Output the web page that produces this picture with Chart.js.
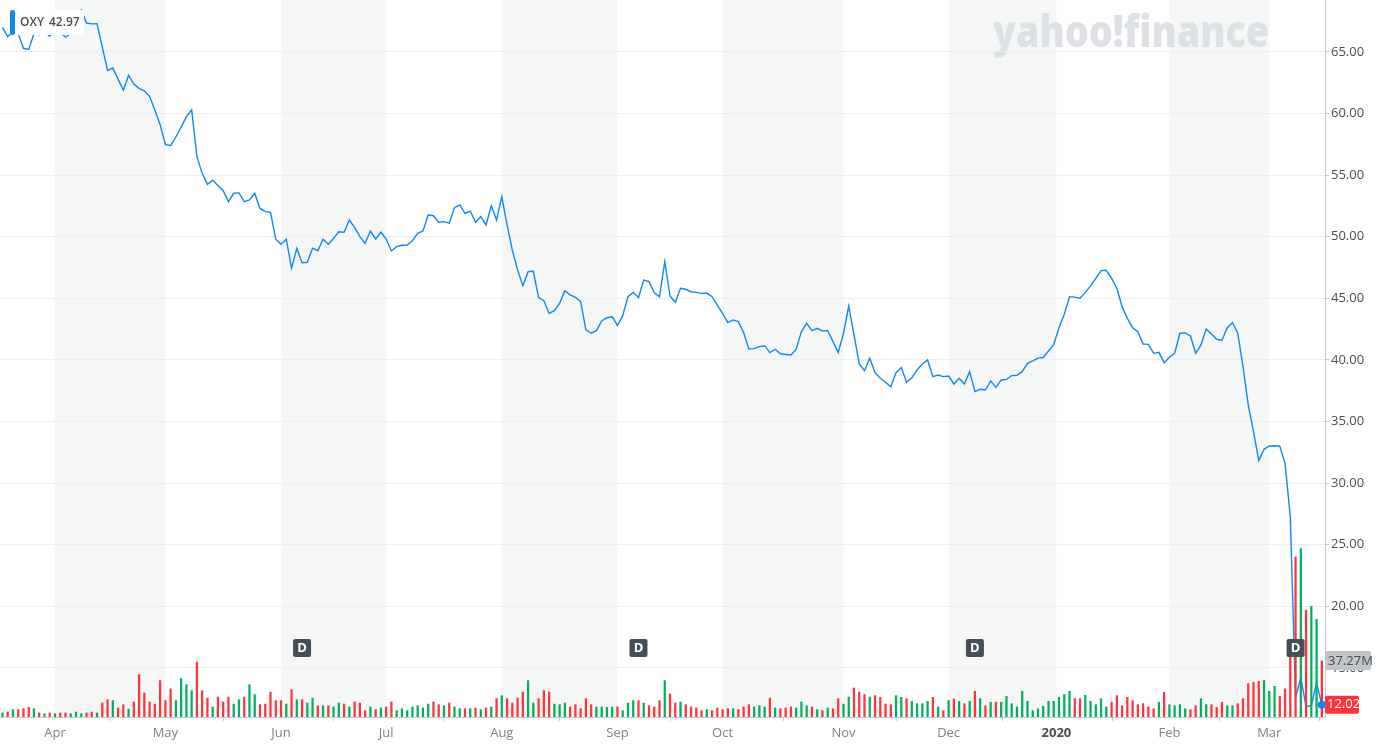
<!DOCTYPE html>
<html>
<head>
<meta charset="utf-8">
<script src="https://cdn.jsdelivr.net/npm/chart.js@4.4.1/dist/chart.umd.min.js"></script>
<style>
html,body{margin:0;padding:0;background:#fff;}
canvas{display:block;}
</style>
</head>
<body>
<canvas id="c" width="1380" height="747"></canvas>
<script>
// ---- Data (OXY daily close, Mar 18 2019 – Mar 16 2020, one value per trading day) ----
const closePrices = [
  67.0, 66.24, 66.65, 66.5, 65.3, 65.2, 66.5, 66.4, 66.6, 66.3,
  66.8, 66.6, 66.2, 66.5, 67.4, 68.4, 67.35, 67.28, 67.3, 65.4,
  63.5, 63.7, 62.8, 61.9, 63.1, 62.4, 62.05, 61.85, 61.4, 60.3,
  59.1, 57.5, 57.4, 58.1, 58.9, 59.75, 60.3, 56.5, 55.15, 54.26,
  54.6, 54.17, 53.74, 52.85, 53.53, 53.56, 52.85, 52.99, 53.53, 52.3,
  52.04, 51.99, 49.8, 49.4, 49.8, 47.44, 49.07, 47.9, 47.93, 49.07,
  48.87, 49.8, 49.4, 49.88, 50.41, 50.37, 51.36, 50.77, 50.01, 49.47,
  50.47, 49.82, 50.37, 49.82, 48.85, 49.2, 49.31, 49.33, 49.68, 50.28,
  50.47, 51.77, 51.71, 51.18, 51.23, 51.1, 52.36, 52.58, 51.91, 52.09,
  51.18, 51.63, 50.96, 52.52, 51.36, 53.26, 50.96, 48.93, 47.31, 46.03,
  47.17, 47.2, 45.06, 44.81, 43.79, 44.0, 44.6, 45.63, 45.28, 45.09,
  44.73, 42.44, 42.17, 42.38, 43.17, 43.43, 43.52, 42.79, 43.6, 45.14,
  45.49, 45.06, 46.49, 46.36, 45.46, 45.14, 47.98, 45.19, 44.68, 45.82,
  45.74, 45.54, 45.49, 45.41, 45.43, 45.14, 44.46, 43.79, 43.03, 43.25,
  43.11, 42.22, 40.89, 40.92, 41.08, 41.16, 40.6, 40.87, 40.5, 40.45,
  40.4, 40.87, 42.3, 42.98, 42.38, 42.57, 42.35, 42.38, 41.49, 40.6,
  42.17, 44.38, 42.03, 39.68, 39.13, 40.14, 38.97, 38.51, 38.19, 37.83,
  38.97, 39.38, 38.19, 38.56, 39.19, 39.68, 40.0, 38.65, 38.78, 38.65,
  38.7, 38.05, 38.51, 38.05, 39.05, 37.43, 37.62, 37.56, 38.3, 37.78,
  38.38, 38.42, 38.73, 38.76, 39.05, 39.73, 39.92, 40.15, 40.2, 40.73,
  41.27, 42.62, 43.71, 45.14, 45.1, 45.01, 45.49, 46.01, 46.63, 47.25,
  47.28, 46.63, 45.82, 44.33, 43.38, 42.62, 42.3, 41.3, 41.27, 40.54,
  40.62, 39.78, 40.22, 40.54, 42.17, 42.2, 41.95, 40.54, 41.22, 42.52,
  42.11, 41.68, 41.6, 42.62, 43.03, 42.17, 39.46, 36.35, 34.18, 31.83,
  32.75, 33.02, 33.04, 33.0, 31.61, 27.28, 12.6, 14.2, 11.85, 11.95,
  13.8, 12.02
];
// volume in millions of shares
const volumeM = [
  2.7, 3.3, 4.9, 4.9, 5.5, 6.4, 5.5, 2.7, 2.2, 2.7,
  2.2, 2.7, 2.7, 2.2, 3.3, 2.2, 2.7, 3.3, 2.7, 9.3,
  11.5, 10.9, 6.0, 8.2, 5.3, 10.0, 28.2, 16.0, 10.0, 8.6,
  24.2, 10.9, 18.8, 10.9, 25.5, 21.5, 17.5, 36.6, 17.5, 12.6,
  6.7, 13.3, 10.0, 13.3, 8.6, 11.5, 13.3, 21.5, 14.9, 8.2,
  8.6, 16.6, 10.9, 10.9, 8.6, 18.2, 11.5, 11.5, 9.3, 12.6,
  7.5, 7.5, 7.5, 6.7, 9.3, 8.6, 6.7, 10.0, 9.3, 4.2,
  6.7, 4.9, 6.0, 6.7, 10.0, 4.2, 5.5, 4.2, 6.7, 7.5,
  6.0, 8.6, 10.0, 8.2, 7.5, 9.3, 6.7, 5.5, 5.5, 5.5,
  6.0, 4.9, 6.0, 6.7, 12.2, 14.2, 12.2, 9.3, 12.6, 16.6,
  24.2, 9.3, 12.2, 17.5, 16.6, 8.6, 8.2, 9.3, 6.7, 8.2,
  5.5, 12.2, 8.2, 6.7, 6.7, 6.4, 6.7, 6.7, 4.2, 9.3,
  10.9, 10.9, 9.3, 7.5, 6.7, 10.9, 24.2, 15.3, 9.3, 10.0,
  8.2, 6.7, 6.0, 4.2, 4.9, 4.2, 6.0, 4.9, 5.5, 5.5,
  4.9, 6.7, 8.2, 6.7, 7.5, 6.7, 12.6, 6.0, 5.5, 6.0,
  6.7, 6.0, 10.0, 7.5, 6.7, 4.9, 4.2, 6.0, 5.5, 12.2,
  8.6, 13.3, 19.3, 16.6, 14.9, 13.3, 14.2, 13.1, 8.6, 8.2,
  14.2, 13.1, 12.2, 10.4, 8.9, 8.9, 10.4, 13.1, 6.7, 4.2,
  10.9, 12.0, 10.4, 8.9, 10.4, 17.1, 12.2, 7.5, 9.8, 9.8,
  9.8, 13.7, 8.9, 6.7, 17.1, 10.4, 4.2, 5.5, 7.1, 10.4,
  10.4, 13.1, 14.9, 17.1, 12.2, 12.2, 14.4, 10.4, 8.2, 12.2,
  6.7, 9.8, 14.2, 7.5, 13.1, 10.9, 8.2, 8.9, 6.7, 5.5,
  9.8, 16.4, 8.2, 7.5, 8.2, 5.5, 4.9, 7.5, 12.2, 8.2,
  8.2, 6.4, 9.8, 7.5, 7.5, 8.9, 12.2, 22.2, 23.1, 23.7,
  24.4, 17.1, 20.4, 13.7, 18.8, 39.7, 106.5, 112.0, 71.0, 73.6,
  65.0, 37.27
];
// trading-day index of the first session of each month and its label
const monthTickIdx = [10, 31, 53, 73, 95, 117, 137, 160, 180, 200.5, 222, 241];
const monthLabels  = ['Apr', 'May', 'Jun', 'Jul', 'Aug', 'Sep', 'Oct', 'Nov', 'Dec', '2020', 'Feb', 'Mar'];
const priceTicks   = [15, 20, 25, 30, 35, 40, 45, 50, 55, 60, 65];
const dividendIdx  = [57, 121, 185, 246];
const symbol = 'OXY';
const headerPrice = '42.97';
const lastVolumeLabel = '37.27M';
const lastPriceLabel = '12.02';

// ---- build library structures ----
const linePoints = closePrices.map((v, i) => ({ x: i, y: v }));
const volPoints  = volumeM.map((v, i) => ({ x: i, y: v }));
const RED = '#ff333a', GREEN = '#00b061';
const volColors = closePrices.map((v, i) => (i === 0 || v >= closePrices[i - 1]) ? GREEN : RED);

const FONT = '"Open Sans", "Liberation Sans", sans-serif';

function roundRect(ctx, x, y, w, h, r) {
  ctx.beginPath();
  ctx.moveTo(x + r, y);
  ctx.lineTo(x + w - r, y);
  ctx.quadraticCurveTo(x + w, y, x + w, y + r);
  ctx.lineTo(x + w, y + h - r);
  ctx.quadraticCurveTo(x + w, y + h, x + w - r, y + h);
  ctx.lineTo(x + r, y + h);
  ctx.quadraticCurveTo(x, y + h, x, y + h - r);
  ctx.lineTo(x, y + r);
  ctx.quadraticCurveTo(x, y, x + r, y);
  ctx.closePath();
}

const backgroundPlugin = {
  id: 'bg',
  beforeDraw(chart) {
    const { ctx, chartArea: a, scales } = chart;
    const xs = scales.x;
    ctx.save();
    ctx.fillStyle = '#ffffff';
    ctx.fillRect(0, 0, chart.width, chart.height);
    // alternating month shading
    ctx.fillStyle = '#f5f7f7';
    for (let k = 0; k < monthTickIdx.length; k += 2) {
      const x0 = xs.getPixelForValue(monthTickIdx[k]);
      const x1 = k + 1 < monthTickIdx.length ? xs.getPixelForValue(monthTickIdx[k + 1]) : a.right;
      ctx.fillRect(x0, a.top, x1 - x0, a.bottom - a.top);
    }
    // watermark
    ctx.font = '800 44px ' + FONT;
    ctx.fillStyle = '#dde1e5';
    ctx.textBaseline = 'alphabetic';
    const txt = 'yahoo!finance';
    const w = ctx.measureText(txt).width;
    ctx.translate(993, 47);
    ctx.scale(276 / w, 1);
    ctx.fillText(txt, 0, 0);
    ctx.restore();
  }
};

const overlayPlugin = {
  id: 'overlay',
  afterDatasetsDraw(chart) {
    const { ctx, scales } = chart;
    const xs = scales.x;
    ctx.save();
    // last-point dot
    const meta = chart.getDatasetMeta(0);
    const lastPt = meta.data[meta.data.length - 1];
    ctx.fillStyle = '#0f87f5';
    ctx.beginPath();
    ctx.arc(lastPt.x, lastPt.y, 4, 0, Math.PI * 2);
    ctx.fill();
    // dividend badges
    ctx.font = 'bold 13px ' + FONT;
    ctx.textAlign = 'center';
    ctx.textBaseline = 'middle';
    dividendIdx.forEach(i => {
      const cx = xs.getPixelForValue(i);
      ctx.fillStyle = '#464e56';
      roundRect(ctx, cx - 9, 639, 18, 18, 2);
      ctx.fill();
      ctx.fillStyle = '#ffffff';
      ctx.fillText('D', cx, 648.5);
    });
    ctx.restore();
  },
  afterDraw(chart) {
    const { ctx, chartArea: a, scales } = chart;
    ctx.save();
    // header label
    ctx.fillStyle = '#ffffff';
    roundRect(ctx, 10, 10, 74, 25, 3);
    ctx.fill();
    ctx.fillStyle = '#0f87f5';
    roundRect(ctx, 10, 10, 5, 25, 2);
    ctx.fill();
    ctx.font = '600 12px ' + FONT;
    ctx.fillStyle = '#464e56';
    ctx.textBaseline = 'middle';
    ctx.textAlign = 'left';
    ctx.fillText(symbol, 20, 22.5);
    ctx.fillText(headerPrice, 49, 22.5);

    // volume tag on right axis
    const vy = scales.yv.getPixelForValue(volumeM[volumeM.length - 1]);
    ctx.fillStyle = '#c1c5ca';
    roundRect(ctx, a.right, vy - 10, 46, 19, 2);
    ctx.fill();
    ctx.fillStyle = '#464e56';
    ctx.font = '13px ' + FONT;
    ctx.fillText(lastVolumeLabel, a.right + 3, vy);

    // price tag on right axis
    const py = scales.y.getPixelForValue(closePrices[closePrices.length - 1]);
    ctx.fillStyle = RED;
    roundRect(ctx, a.right, py - 9, 34, 18, 2);
    ctx.fill();
    ctx.fillStyle = '#ffffff';
    ctx.fillText(lastPriceLabel, a.right + 2, py);
    ctx.restore();
  }
};

new Chart(document.getElementById('c'), {
  data: {
    datasets: [
      {
        type: 'line',
        data: linePoints,
        yAxisID: 'y',
        borderColor: '#0f87f5',
        borderWidth: 1.4,
        pointRadius: 0,
        pointHoverRadius: 0,
        tension: 0,
        order: 2
      },
      {
        type: 'bar',
        data: volPoints,
        yAxisID: 'yv',
        backgroundColor: volColors,
        barThickness: 1.6,
        order: 1
      }
    ]
  },
  options: {
    responsive: false,
    animation: false,
    devicePixelRatio: 1,
    layout: { padding: 0, autoPadding: false },
    plugins: { legend: { display: false }, tooltip: { enabled: false } },
    scales: {
      x: {
        type: 'linear',
        position: 'bottom',
        min: -0.46,
        max: 251.6,
        offset: false,
        afterBuildTicks: s => { s.ticks = monthTickIdx.map(v => ({ value: v })); },
        afterFit: s => { s.height = 30; s.paddingLeft = 0; s.paddingRight = 0; },
        ticks: {
          autoSkip: false,
          maxRotation: 0,
          padding: 4,
          callback: (v, i) => monthLabels[i],
          color: c => (c.tick && c.tick.label === '2020') ? '#464e56' : '#7b838b',
          font: c => ({ family: FONT, size: 13, weight: (c.tick && c.tick.label === '2020') ? 'bold' : 'normal' })
        },
        grid: { drawOnChartArea: false, drawTicks: true, tickLength: 4, tickColor: '#c5cad0' },
        border: { color: '#c5cad0', width: 1 }
      },
      y: {
        position: 'right',
        min: 11.02,
        max: 69.22,
        afterBuildTicks: s => { s.ticks = priceTicks.map(v => ({ value: v })); },
        afterFit: s => { s.width = 55; s.paddingTop = 0; s.paddingBottom = 0; },
        ticks: {
          padding: 2,
          callback: v => Number(v).toFixed(2),
          color: '#464e56',
          font: { family: FONT, size: 13 }
        },
        grid: { color: '#eceef0', tickLength: 4, tickColor: '#c5cad0' },
        border: { color: '#c5cad0', width: 1 }
      },
      yv: {
        display: false,
        min: 0,
        max: 477
      }
    }
  },
  plugins: [backgroundPlugin, overlayPlugin]
});
</script>
</body>
</html>
